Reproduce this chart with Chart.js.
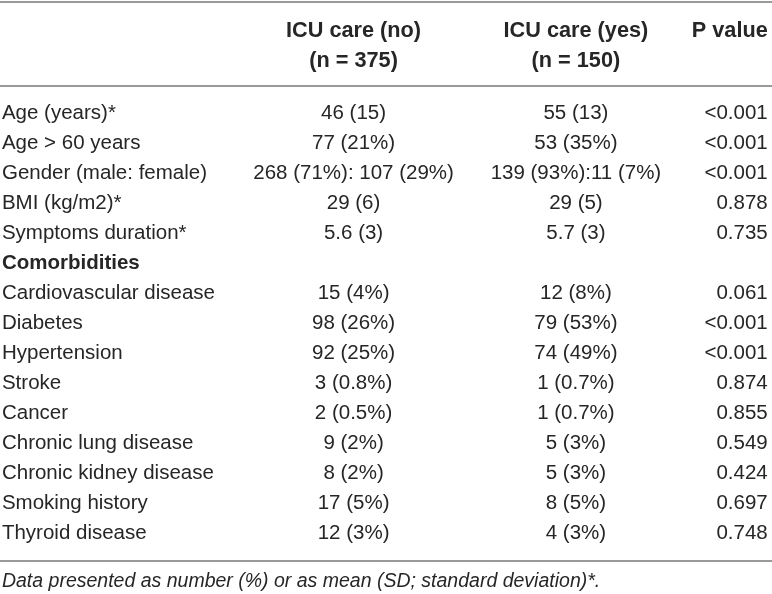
<!DOCTYPE html>
<html>
<head>
<meta charset="utf-8">
<script src="https://cdn.jsdelivr.net/npm/chart.js@4"></script>
<style>
  html, body { margin: 0; padding: 0; background: #fff; }
  #wrap { width: 772px; height: 594px; }
</style>
</head>
<body>
<div id="wrap"><canvas id="tableChart"></canvas></div>
<script>
// ── Table data ───────────────────────────────────────────────────────────────

const rowLabels = [
    'Age (years)*', 'Age > 60 years', 'Gender (male: female)', 'BMI (kg/m2)*',
    'Symptoms duration*', 'Comorbidities', 'Cardiovascular disease', 'Diabetes',
    'Hypertension', 'Stroke', 'Cancer', 'Chronic lung disease',
    'Chronic kidney disease', 'Smoking history', 'Thyroid disease'
];
const icuNo = [
    '46 (15)', '77 (21%)', '268 (71%): 107 (29%)', '29 (6)', '5.6 (3)', '',
    '15 (4%)', '98 (26%)', '92 (25%)', '3 (0.8%)', '2 (0.5%)', '9 (2%)',
    '8 (2%)', '17 (5%)', '12 (3%)'
];
const icuYes = [
    '55 (13)', '53 (35%)', '139 (93%):11 (7%)', '29 (5)', '5.7 (3)', '',
    '12 (8%)', '79 (53%)', '74 (49%)', '1 (0.7%)', '1 (0.7%)', '5 (3%)',
    '5 (3%)', '8 (5%)', '4 (3%)'
];
const pValues = [
    '<0.001', '<0.001', '<0.001', '0.878', '0.735', '',
    '0.061', '<0.001', '<0.001', '0.874', '0.855', '0.549',
    '0.424', '0.697', '0.748'
];
const groupRows = ['Comorbidities'];
const headerNo  = ['ICU care (no)', '(n = 375)'];
const headerYes = ['ICU care (yes)', '(n = 150)'];
const headerP   = ['P value'];
const footnote  = 'Data presented as number (%) or as mean (SD; standard deviation)*.';

// ── Layout / style ───────────────────────────────────────────────────────────

const FONT = '"Liberation Sans", Arial, sans-serif';
const TEXT = '#262626';
const RULE = '#9a9a9a';
const COL_X = { label: 0.25, no: 45.8, yes: 74.6, p: 99.45 };   // x-scale units (0..100)

const cellColumns = [
    { values: icuNo,   x: COL_X.no,  align: 'center', header: headerNo },
    { values: icuYes,  x: COL_X.yes, align: 'center', header: headerYes },
    { values: pValues, x: COL_X.p,   align: 'right',  header: headerP },
];

// ── Plugin: draws the table text and rules from the scales ───────────────────

const tablePlugin = {
    id: 'tableText',
    afterDatasetsDraw(chart) {
        const { ctx, scales: { x, y } } = chart;
        ctx.save();
        ctx.fillStyle = TEXT;
        ctx.textBaseline = 'middle';

        // rules
        ctx.strokeStyle = RULE;
        ctx.lineWidth = 2;
        [2, 86, 561].forEach(yy => {
            ctx.beginPath();
            ctx.moveTo(x.getPixelForValue(0), yy);
            ctx.lineTo(x.getPixelForValue(100), yy);
            ctx.stroke();
        });

        // header
        ctx.font = 'bold 21.7px ' + FONT;
        cellColumns.forEach(col => {
            ctx.textAlign = col.align;
            col.header.forEach((line, i) => {
                ctx.fillText(line, x.getPixelForValue(col.x), 31 + i * 30);
            });
        });

        // row labels
        ctx.textAlign = 'left';
        rowLabels.forEach((label, i) => {
            ctx.font = (groupRows.includes(label) ? 'bold ' : '') + '20.5px ' + FONT;
            ctx.fillText(label, x.getPixelForValue(COL_X.label), y.getPixelForValue(i));
        });

        // cells, positioned by the dataset points
        ctx.font = '20.5px ' + FONT;
        chart.data.datasets.forEach((ds, di) => {
            const col = cellColumns[di];
            ctx.textAlign = col.align;
            chart.getDatasetMeta(di).data.forEach((pt, i) => {
                ctx.fillText(col.values[i], pt.x, pt.y);
            });
        });

        // footnote
        ctx.font = 'italic 19.5px ' + FONT;
        ctx.textAlign = 'left';
        ctx.fillText(footnote, x.getPixelForValue(COL_X.label), 582);
        ctx.restore();
    }
};

// ── Chart ────────────────────────────────────────────────────────────────────

const ctx = document.getElementById('tableChart').getContext('2d');
new Chart(ctx, {
    type: 'scatter',
    data: {
        datasets: cellColumns.map(col => ({
            data: col.values.map((v, i) => ({ x: col.x, y: rowLabels[i] })),
            pointRadius: 0,
            pointHoverRadius: 0,
        }))
    },
    options: {
        responsive: true,
        maintainAspectRatio: false,
        animation: false,
        events: [],
        layout: { padding: { top: 98.5, bottom: 45.5, left: 0, right: 0 } },
        plugins: { legend: { display: false }, tooltip: { enabled: false } },
        scales: {
            x: { type: 'linear', min: 0, max: 100, display: false },
            y: { type: 'category', labels: rowLabels, offset: true, display: false }
        }
    },
    plugins: [tablePlugin]
});
</script>
</body>
</html>
